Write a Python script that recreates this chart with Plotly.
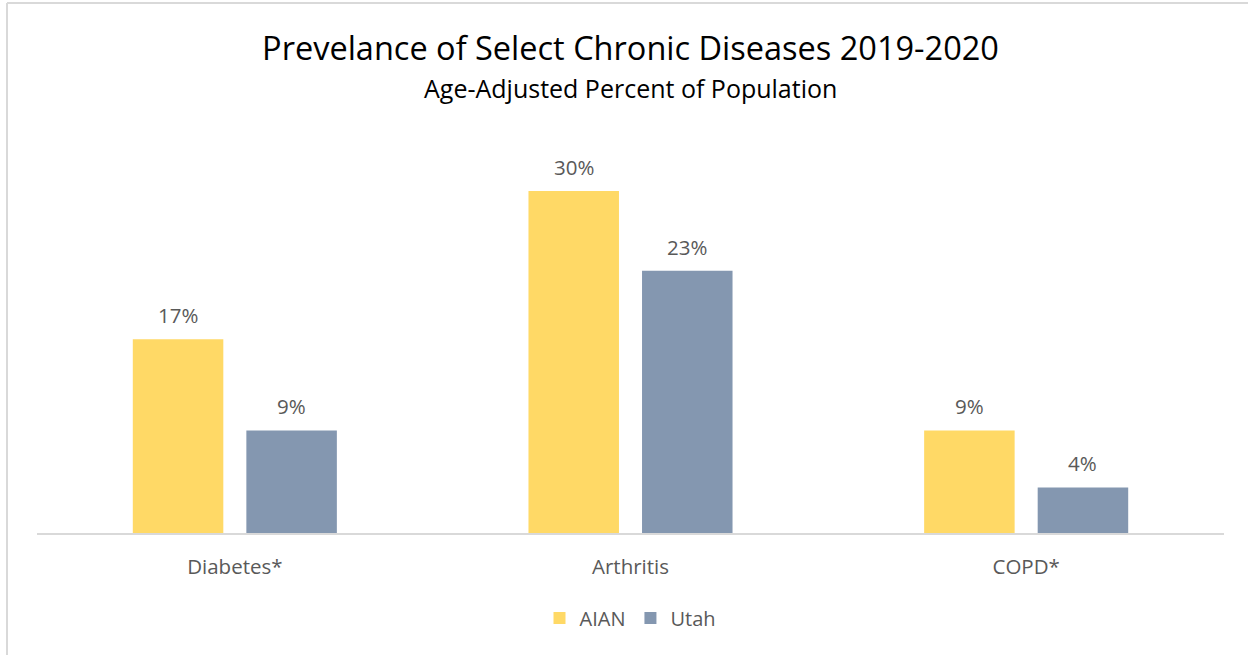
import plotly.graph_objects as go

# Chart data
categories = ["Diabetes*", "Arthritis", "COPD*"]
aian_values = [17, 30, 9]
utah_values = [9, 23, 4]
series_names = ["AIAN", "Utah"]
series_colors = ["#FFD966", "#8497B0"]

W, H = 1248, 655
M_L, M_R, M_T, M_B = 37, 24, 134, 122
Y_MAX = 35
BARGAP = 0.426
BARGROUPGAP = 0.203

FONT = "'Open Sans', Lato, sans-serif"
TEXT_GRAY = "#595959"

fig = go.Figure()
for name, vals, color in zip(series_names, [aian_values, utah_values], series_colors):
    fig.add_trace(go.Bar(
        x=categories, y=vals, name=name,
        marker=dict(color=color, line=dict(width=0)),
    ))

# value labels above each bar
plot_w = W - M_L - M_R
cat_w = plot_w / len(categories)
slot = cat_w * (1 - BARGAP) / 2
annotations = []
for i, vals in enumerate([aian_values, utah_values]):
    shift = (i - 0.5) * slot
    for c, v in zip(categories, vals):
        annotations.append(dict(
            x=c, y=v, xref="x", yref="y", text=f"{v}%", showarrow=False,
            xshift=shift, yshift=8, yanchor="bottom",
            font=dict(family=FONT, size=20.5, color=TEXT_GRAY),
        ))

plot_h = H - M_T - M_B
# subtitle
annotations.append(dict(
    x=0.5, y=(H - M_B - 88) / plot_h, xref="paper", yref="paper",
    text="Age-Adjusted Percent of Population", showarrow=False,
    yanchor="middle", font=dict(family=FONT, size=25, color="#000000"),
))

# outer frame lines (left and top)
def px_x(px):
    return (px - M_L) / plot_w

def px_y(py):
    return (H - M_B - py) / plot_h

shapes = [
    dict(type="line", xref="paper", yref="paper",
         x0=px_x(7), x1=px_x(7), y0=px_y(3), y1=px_y(H),
         line=dict(color="#D9D9D9", width=2)),
    dict(type="line", xref="paper", yref="paper",
         x0=px_x(7), x1=px_x(W), y0=px_y(3), y1=px_y(3),
         line=dict(color="#D9D9D9", width=2)),
]

fig.update_layout(
    width=W, height=H,
    margin=dict(l=M_L, r=M_R, t=M_T, b=M_B),
    paper_bgcolor="white", plot_bgcolor="white",
    barmode="group", bargap=BARGAP, bargroupgap=BARGROUPGAP,
    title=dict(
        text="Prevelance of Select Chronic Diseases 2019-2020",
        x=0.5, xref="paper", xanchor="center",
        y=1 - 49 / H, yref="container", yanchor="middle",
        font=dict(family=FONT, size=32.5, color="#000000"),
    ),
    xaxis=dict(
        showline=True, linecolor="#D9D9D9", linewidth=1.5,
        showgrid=False, ticks="", ticklabelstandoff=15,
        tickfont=dict(family=FONT, size=20.5, color=TEXT_GRAY),
        fixedrange=True,
    ),
    yaxis=dict(
        range=[0, Y_MAX], visible=False, showgrid=False, zeroline=False,
    ),
    legend=dict(
        orientation="h", x=0.5, xanchor="center",
        y=px_y(618), yanchor="middle",
        font=dict(family=FONT, size=20, color=TEXT_GRAY),
        itemwidth=30,
    ),
    annotations=annotations,
    shapes=shapes,
    showlegend=True,
)

fig.write_html("out.html")
